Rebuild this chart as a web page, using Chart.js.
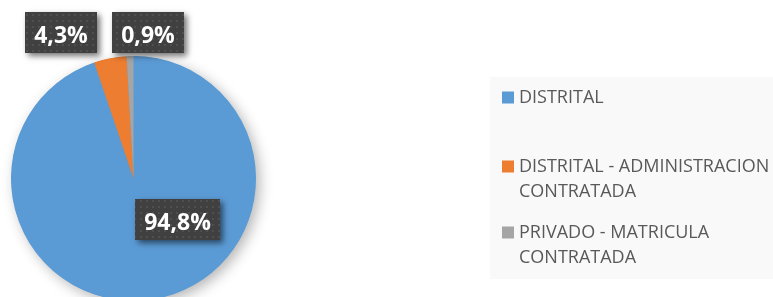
<!DOCTYPE html>
<html>
<head>
<meta charset="utf-8">
<script src="https://cdn.jsdelivr.net/npm/chart.js@4.4.1/dist/chart.umd.min.js"></script>
<style>
html,body{margin:0;padding:0;background:#fff;overflow:hidden;width:773px;height:297px;}
#wrap{position:relative;width:773px;height:310px;}
</style>
</head>
<body>
<div id="wrap"><canvas id="c" width="773" height="310"></canvas></div>
<script>
const categories = ["DISTRITAL", "DISTRITAL - ADMINISTRACION CONTRATADA", "PRIVADO - MATRICULA CONTRATADA"];
const values = [94.8, 4.3, 0.9];
const valueLabels = ["94,8%", "4,3%", "0,9%"];
const colors = ["#5B9BD5", "#ED7D31", "#A5A5A5"];

// label box placement relative to pie center, in units of radius
const labelPos = [[0.359, 0.335], [-0.592, -1.192], [0.122, -1.192]];

function makePattern(ctx){
  const p = document.createElement('canvas');
  p.width = 6; p.height = 6;
  const g = p.getContext('2d');
  g.fillStyle = '#404040'; g.fillRect(0,0,6,6);
  g.fillStyle = '#4f4f4f'; g.fillRect(2,2,2,2);
  return ctx.createPattern(p, 'repeat');
}

const pieShadow = {
  id: 'pieShadow',
  beforeDatasetsDraw(chart){
    const arc = chart.getDatasetMeta(0).data[0];
    if(!arc) return;
    const ctx = chart.ctx;
    ctx.save();
    ctx.shadowColor = 'rgba(0,0,0,0.3)';
    ctx.shadowBlur = 14;
    ctx.shadowOffsetX = 4;
    ctx.shadowOffsetY = 4;
    ctx.fillStyle = colors[0];
    ctx.beginPath();
    ctx.arc(arc.x, arc.y, arc.outerRadius - 0.5, 0, Math.PI*2);
    ctx.fill();
    ctx.restore();
  }
};

const boxLabels = {
  id: 'boxLabels',
  afterDatasetsDraw(chart){
    const ctx = chart.ctx;
    const meta = chart.getDatasetMeta(0);
    const pat = makePattern(ctx);
    ctx.save();
    ctx.font = 'bold 23px "Open Sans"';
    meta.data.forEach((arc, i) => {
      const r = arc.outerRadius;
      const cx = arc.x + labelPos[i][0]*r;
      const cy = arc.y + labelPos[i][1]*r;
      const txt = valueLabels[i];
      const tw = ctx.measureText(txt).width;
      const w = Math.round(tw + 18), h = 41;
      const x = Math.round(cx - w/2), y = Math.round(cy - h/2);
      ctx.save();
      ctx.shadowColor = 'rgba(0,0,0,0.55)';
      ctx.shadowBlur = 6;
      ctx.shadowOffsetX = 3;
      ctx.shadowOffsetY = 3;
      ctx.fillStyle = '#404040';
      ctx.fillRect(x, y, w, h);
      ctx.restore();
      ctx.fillStyle = pat;
      ctx.fillRect(x, y, w, h);
      ctx.fillStyle = '#ffffff';
      ctx.textAlign = 'center';
      ctx.textBaseline = 'alphabetic';
      ctx.fillText(txt, x + w/2, y + 31);
    });
    ctx.restore();
  }
};

function wrap(ctx, text, maxW){
  const words = text.split(' ');
  const lines = [];
  let cur = '';
  words.forEach(wd => {
    const t = cur ? cur + ' ' + wd : wd;
    if (cur && ctx.measureText(t).width > maxW) { lines.push(cur); cur = wd; }
    else cur = t;
  });
  if (cur) lines.push(cur);
  return lines;
}

const sideLegend = {
  id: 'sideLegend',
  afterDraw(chart){
    const ctx = chart.ctx;
    ctx.save();
    ctx.fillStyle = '#f9f9f9';
    ctx.fillRect(490, 77, 283, 202);
    ctx.font = '18px "Open Sans"';
    ctx.textBaseline = 'middle';
    const itemY = [97, 166, 232];
    const lineH = 25;
    chart.data.labels.forEach((lab, i) => {
      ctx.fillStyle = colors[i];
      ctx.fillRect(502, itemY[i] - 5.5, 12, 12);
      ctx.fillStyle = '#595959';
      const lines = wrap(ctx, lab, 262);
      lines.forEach((ln, k) => ctx.fillText(ln, 519, itemY[i] + 1 + k*lineH));
    });
    ctx.restore();
  }
};

new Chart(document.getElementById('c'), {
  type: 'pie',
  data: {
    labels: categories,
    datasets: [{ data: values, backgroundColor: colors, borderWidth: 0 }]
  },
  options: {
    responsive: false,
    animation: false,
    layout: { padding: { left: 11, right: 517, top: 56, bottom: 9 } },
    plugins: { legend: { display: false }, tooltip: { enabled: false } }
  },
  plugins: [pieShadow, boxLabels, sideLegend]
});
</script>
</body>
</html>
